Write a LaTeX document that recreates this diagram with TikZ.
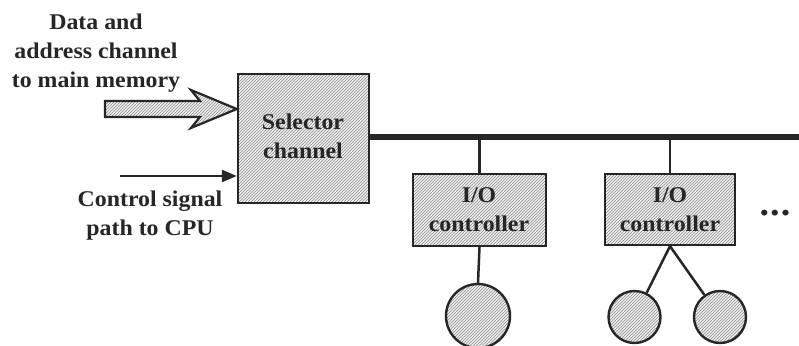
\documentclass[tikz,border=0pt]{standalone}
\usepackage{fontspec}
\setmainfont{Liberation Serif}[FakeStretch=1.06]
\usetikzlibrary{patterns,arrows.meta}
\tikzset{
  hatch/.style={preaction={fill=black!6}, pattern=north east lines, pattern color=black!45},
  lbl/.style={font=\fontsize{22.5}{29}\selectfont\bfseries, text=black!85, align=center, inner sep=0pt},
  boxstyle/.style={draw=black!85, line width=2.4pt, hatch, inner sep=0pt},
  devstyle/.style={draw=black!85, line width=2.4pt, hatch, circle, inner sep=0pt},
  conn/.style={draw=black!85, line width=2.5pt},
  bus/.style={draw=black!85, line width=6.5pt}
}
\begin{document}
\begin{tikzpicture}[x=1pt,y=-1pt]
\clip (0,0) rectangle (799,345);
\useasboundingbox (0,0) rectangle (799,345);
\fill[white] (0,0) rectangle (799,345);

% selector channel
\node[boxstyle, minimum width=131pt, minimum height=129pt] (sel) at (303.5,138.5) {};
\node[lbl] (seltxt) at (303,136) {Selector\\channel};

% bus
\coordinate (busend) at (805,137);
\draw[bus] (sel.east |- 0,137) -- (busend);

% I/O controllers
\node[boxstyle, minimum width=133pt, minimum height=72pt] (io1) at (479.5,210) {};
\node[lbl] (io1txt) at (479,210) {I/O\\controller};
\node[boxstyle, minimum width=130pt, minimum height=71pt] (io2) at (670,209.5) {};
\node[lbl] (io2txt) at (670,210) {I/O\\controller};

\coordinate (tap1) at (io1.north |- 0,137);
\coordinate (tap2) at (io2.north |- 0,137);
\draw[conn] (tap1) -- (io1.north);
\draw[conn] (tap2) -- (io2.north);

% devices
\node[devstyle, minimum size=64pt] (d1) at (478,316) {};
\node[devstyle, minimum size=52pt] (d2) at (634.5,317) {};
\node[devstyle, minimum size=52pt] (d3) at (720,317) {};
\draw[conn] (io1.south) -- (d1.north);
\draw[conn] (io2.south) -- (d2);
\draw[conn] (io2.south) -- (d3);

% dots
\node[lbl, font=\fontsize{36}{36}\selectfont\bfseries] (dots) at (775,213) {.\hspace{1pt}.\hspace{1pt}.};

% fat data arrow
\draw[draw=black!85, line width=2.2pt, line join=miter, hatch]
  (105,101) -- (200,101) -- (191,90) -- (sel.west |- 0,109) -- (191,128) -- (200,117) -- (105,117) -- cycle;
\node[lbl] (datatxt) at (96,53) {Data and\\address channel\\to main memory};

% control signal arrow
\coordinate (ctrlstart) at (120,176);
\draw[conn, -{Triangle[length=15pt,width=12pt]}] (ctrlstart) -- (sel.west |- ctrlstart);
\node[lbl] (ctrltxt) at (150,216) {Control signal\\path to CPU};
\end{tikzpicture}
\end{document}
